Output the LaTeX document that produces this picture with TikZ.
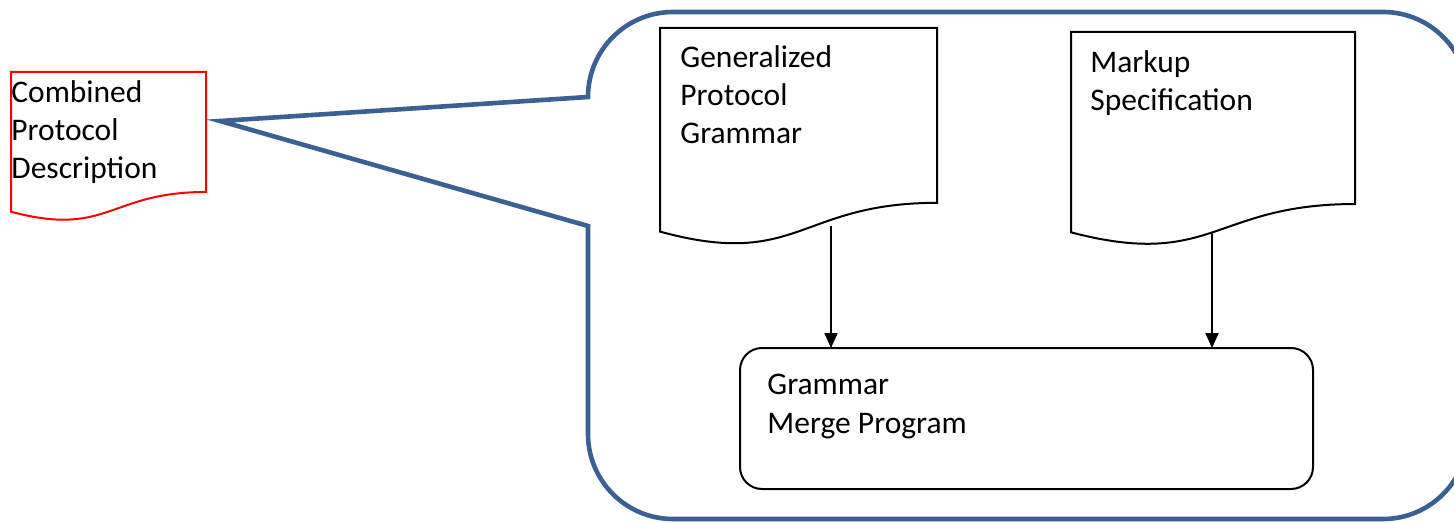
\documentclass[tikz,border=0pt]{standalone}
\usepackage{fontspec}
\setmainfont{Carlito}
\usetikzlibrary{arrows.meta,calc}

\definecolor{calloutblue}{HTML}{3D6093}

\tikzset{
  docbox/.style={draw=none, anchor=north west, inner sep=0pt, outer sep=0pt},
  txt/.style={anchor=base west, inner sep=0pt, align=left, font=\fontsize{15.75}{19.1}\selectfont},
  procbox/.style={draw, line width=1pt, rounded corners=11pt, anchor=north west, inner sep=0pt, outer sep=0pt,
    minimum width=286.5pt, minimum height=70.5pt},
  arr/.style={-{Triangle[length=7.5pt,width=6.5pt]}, line width=1pt},
  callout/.style={draw=calloutblue, line width=2.3pt, line join=miter}
}

\newcommand{\docoutline}[2]{%
  \draw[#2] (#1.north west) -- (#1.north east) -- ($(#1.north east)!0.802!(#1.south east)$)
    .. controls ($(#1.north)!0.802!(#1.south)$) and ($(#1.north)!1.1075!(#1.south)$)
    .. ($(#1.north west)!0.934!(#1.south west)$) -- cycle;}

\begin{document}
\begin{tikzpicture}[x=0.5pt,y=-0.5pt]
\useasboundingbox (0,0) rectangle (1454,523);

\node[docbox, minimum width=97.5pt, minimum height=74.8pt] (cpd) at (11,72) {};
\node[docbox, minimum width=138.5pt, minimum height=109pt] (gpg) at (660,28) {};
\node[docbox, minimum width=142pt, minimum height=107.25pt] (mks) at (1071,32) {};
\node[procbox] (merge) at (740,348) {};

\docoutline{cpd}{red, line width=1pt}
\docoutline{gpg}{black, line width=1pt}
\docoutline{mks}{black, line width=1pt}

\node[txt] (cpdtext) at (11,179) {Combined\\Protocol\\Description};
\node[txt] (gpgtext) at (680,144) {Generalized\\Protocol\\Grammar};
\node[txt] (mkstext) at (1090,111) {Markup\\Specification};
\node[txt] (mergetext) at (767,433) {Grammar\\Merge Program};

\coordinate (gpgout) at ([shift={(171,198)}]gpg.north west);
\coordinate (mksout) at ([shift={(141,200)}]mks.north west);
\draw[arr] (gpgout) -- (gpgout |- merge.north);
\draw[arr] (mksout) -- (mksout |- merge.north);

\coordinate (tip) at ([shift={(14,49)}]cpd.north east);
\draw[callout] (588,226) -- (588,434) arc[start angle=180, end angle=90, radius=85]
  -- (1383,519) arc[start angle=90, end angle=0, radius=85]
  -- (1468,97) arc[start angle=0, end angle=-90, radius=85]
  -- (673,12) arc[start angle=-90, end angle=-180, radius=85]
  -- (tip) -- cycle;
\end{tikzpicture}
\end{document}
